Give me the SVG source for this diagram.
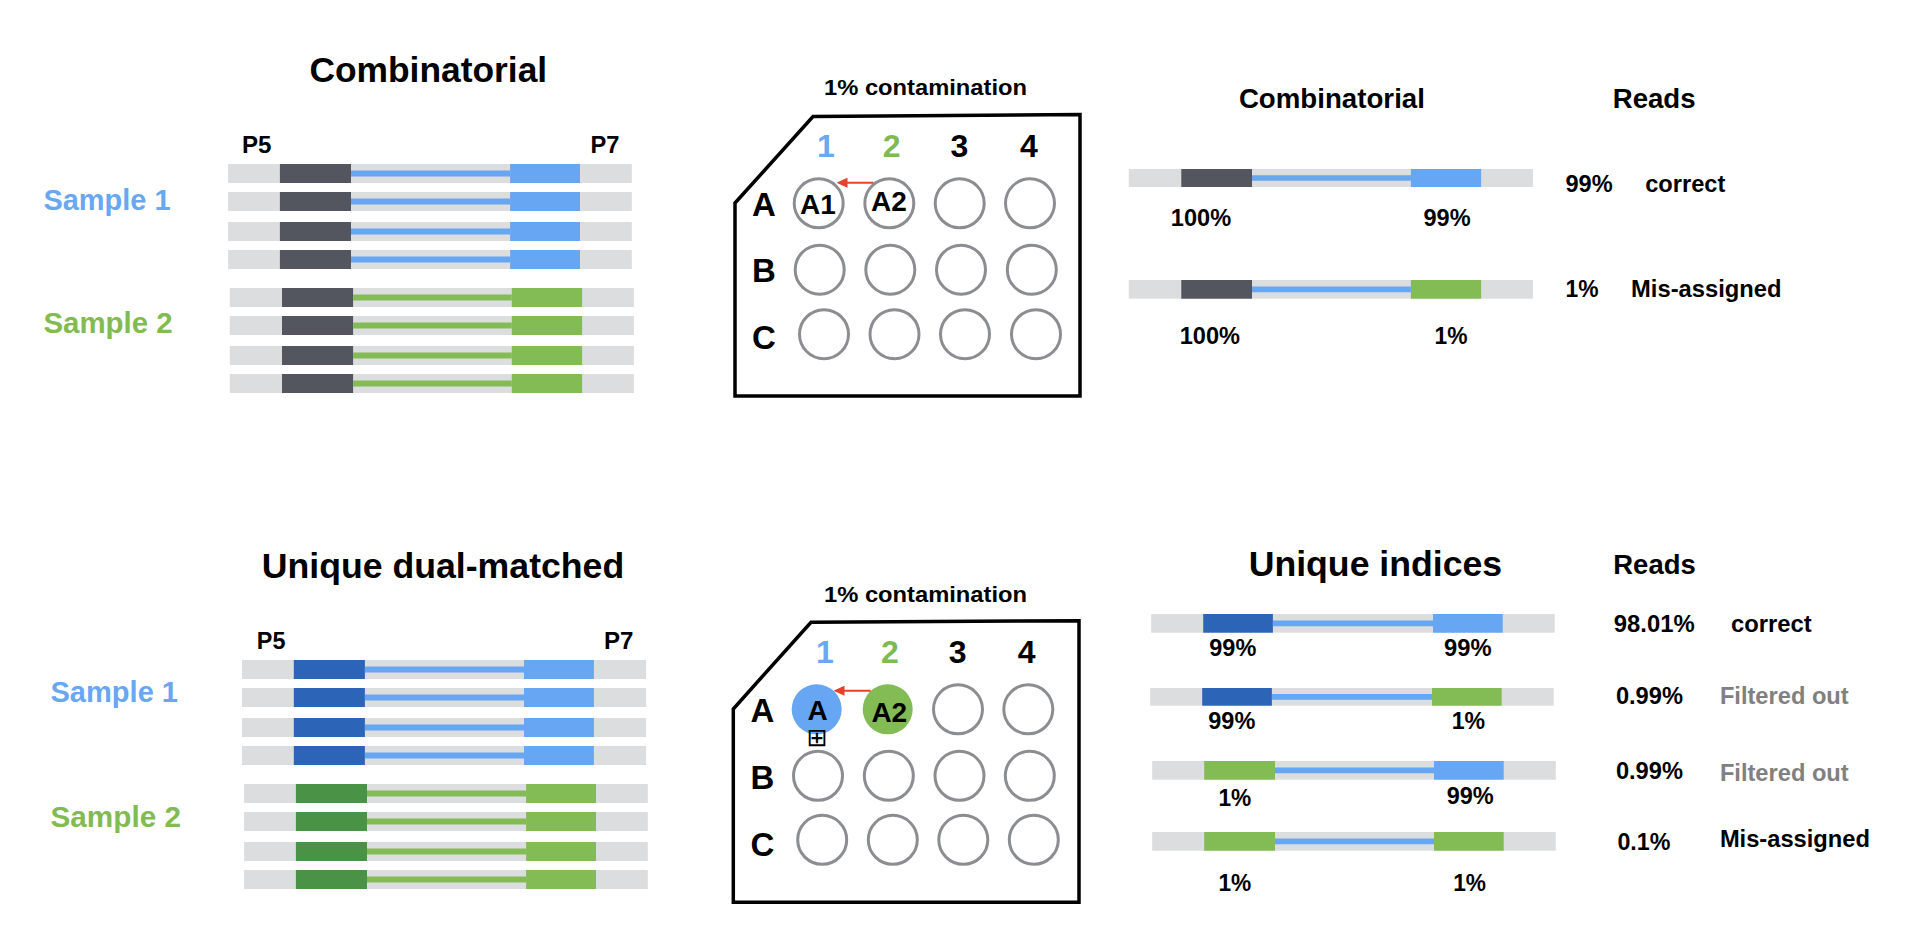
<svg xmlns="http://www.w3.org/2000/svg" width="1922" height="926" viewBox="0 0 1922 926">
<style>
  text { font-family: "Liberation Sans", Arial, sans-serif; font-weight: bold; fill: #000; }
  .t { font-size: 23.5px; }
  .g { fill: #dcdddf; }
  .dk { fill: #53565e; }
  .bl { fill: #66a6f2; }
  .gr { fill: #83bb55; }
  .db { fill: #2c65b8; }
  .dg { fill: #4a9246; }
  .lb { stroke: #66a6f2; stroke-width: 6; }
  .lg { stroke: #83bb55; stroke-width: 6; }
  .well { fill: none; stroke: #8c8d91; stroke-width: 3; }
  .plate { fill: #fff; stroke: #000; stroke-width: 3.5; stroke-linejoin: miter; }
  .num { font-size: 32px; text-anchor: middle; }
  .row { font-size: 33px; text-anchor: middle; }
  .wl { font-size: 28px; text-anchor: middle; }
  .arr { stroke: #e5412d; stroke-width: 2; fill: none; }
  .s1 { fill: #69a7f2; font-size: 29px; }
  .s2 { fill: #82bb52; font-size: 29px; }
  .fo { fill: #808080; }
</style>
<defs>
  <marker id="ah" viewBox="0 0 11 10" refX="7" refY="5" markerWidth="11" markerHeight="10" markerUnits="userSpaceOnUse" orient="auto">
    <path d="M0,0 L11,5 L0,10 z" fill="#e5412d"/>
  </marker>
</defs>
<rect width="1922" height="926" fill="#fff"/>

<!-- ===== Top-left: Combinatorial libraries ===== -->
<g id="combinatorial-libraries">
  <text x="309.4" y="82" font-size="35" textLength="237.8" lengthAdjust="spacingAndGlyphs">Combinatorial</text>
  <text x="242" y="153" font-size="24" textLength="29.5" lengthAdjust="spacingAndGlyphs">P5</text>
  <text x="590.5" y="153" font-size="24" textLength="29" lengthAdjust="spacingAndGlyphs">P7</text>
  <text class="s1" x="43.4" y="210" textLength="127.1" lengthAdjust="spacingAndGlyphs">Sample 1</text>
  <text class="s2" x="43.4" y="333" textLength="129.2" lengthAdjust="spacingAndGlyphs">Sample 2</text>
  <g id="tl-s1">
    <rect class="g" x="228.1" y="164" width="403.7" height="19"/>
    <rect class="dk" x="279.9" y="164" width="71.1" height="19"/>
    <rect class="bl" x="510.1" y="164" width="69.9" height="19"/>
    <line class="lb" x1="351" y1="173.5" x2="510.1" y2="173.5"/>
    <rect class="g" x="228.1" y="192" width="403.7" height="19"/>
    <rect class="dk" x="279.9" y="192" width="71.1" height="19"/>
    <rect class="bl" x="510.1" y="192" width="69.9" height="19"/>
    <line class="lb" x1="351" y1="201.5" x2="510.1" y2="201.5"/>
    <rect class="g" x="228.1" y="222" width="403.7" height="19"/>
    <rect class="dk" x="279.9" y="222" width="71.1" height="19"/>
    <rect class="bl" x="510.1" y="222" width="69.9" height="19"/>
    <line class="lb" x1="351" y1="231.5" x2="510.1" y2="231.5"/>
    <rect class="g" x="228.1" y="250" width="403.7" height="19"/>
    <rect class="dk" x="279.9" y="250" width="71.1" height="19"/>
    <rect class="bl" x="510.1" y="250" width="69.9" height="19"/>
    <line class="lb" x1="351" y1="259.5" x2="510.1" y2="259.5"/>
  </g>
  <g id="tl-s2">
    <rect class="g" x="229.8" y="288" width="404.1" height="19"/>
    <rect class="dk" x="282" y="288" width="71.1" height="19"/>
    <rect class="gr" x="511.8" y="288" width="70.3" height="19"/>
    <line class="lg" x1="353.1" y1="297.5" x2="511.8" y2="297.5"/>
    <rect class="g" x="229.8" y="316" width="404.1" height="19"/>
    <rect class="dk" x="282" y="316" width="71.1" height="19"/>
    <rect class="gr" x="511.8" y="316" width="70.3" height="19"/>
    <line class="lg" x1="353.1" y1="325.5" x2="511.8" y2="325.5"/>
    <rect class="g" x="229.8" y="346" width="404.1" height="19"/>
    <rect class="dk" x="282" y="346" width="71.1" height="19"/>
    <rect class="gr" x="511.8" y="346" width="70.3" height="19"/>
    <line class="lg" x1="353.1" y1="355.5" x2="511.8" y2="355.5"/>
    <rect class="g" x="229.8" y="374" width="404.1" height="19"/>
    <rect class="dk" x="282" y="374" width="71.1" height="19"/>
    <rect class="gr" x="511.8" y="374" width="70.3" height="19"/>
    <line class="lg" x1="353.1" y1="383.5" x2="511.8" y2="383.5"/>
  </g>
</g>

<!-- ===== Top plate ===== -->
<g id="plate-top">
  <text x="824" y="95" font-size="22" textLength="203" lengthAdjust="spacingAndGlyphs">1% contamination</text>
  <polygon class="plate" points="813,116.5 1080,114.5 1080,396 735,396 735,203"/>
  <text class="num" x="826" y="157.3" style="fill:#6aa8f0">1</text>
  <text class="num" x="891.7" y="157.3" style="fill:#7dba4f">2</text>
  <text class="num" x="959.3" y="157.3">3</text>
  <text class="num" x="1029" y="157.3">4</text>
  <text class="row" x="764" y="215.7">A</text>
  <text class="row" x="764" y="282.3">B</text>
  <text class="row" x="764" y="349">C</text>
  <circle class="well" cx="818.7" cy="203.3" r="24.5"/>
  <circle class="well" cx="889.3" cy="203.3" r="24.5"/>
  <circle class="well" cx="959.7" cy="203.3" r="24.5"/>
  <circle class="well" cx="1030" cy="203.3" r="24.5"/>
  <circle class="well" cx="819.7" cy="269.7" r="24.5"/>
  <circle class="well" cx="890.3" cy="269.7" r="24.5"/>
  <circle class="well" cx="961" cy="269.7" r="24.5"/>
  <circle class="well" cx="1031.8" cy="269.7" r="24.5"/>
  <circle class="well" cx="824" cy="334.2" r="24.5"/>
  <circle class="well" cx="894.5" cy="334.2" r="24.5"/>
  <circle class="well" cx="965" cy="334.2" r="24.5"/>
  <circle class="well" cx="1036" cy="334.2" r="24.5"/>
  <text class="wl" x="818" y="214.3">A1</text>
  <text class="wl" x="889" y="210.7">A2</text>
</g>

<!-- ===== Top right: Combinatorial reads ===== -->
<g id="combinatorial-reads">
  <text x="1238.9" y="108.3" font-size="27.5" textLength="186" lengthAdjust="spacingAndGlyphs">Combinatorial</text>
  <text x="1612.7" y="108.3" font-size="27.5" textLength="82.9" lengthAdjust="spacingAndGlyphs">Reads</text>
  <rect class="g" x="1128.8" y="169" width="404.2" height="18"/>
  <rect class="dk" x="1181.3" y="169" width="70.7" height="18"/>
  <rect class="bl" x="1410.9" y="169" width="70.2" height="18"/>
  <line class="lb" x1="1252" y1="178" x2="1410.9" y2="178" style="stroke-width:5.7"/>
  <text class="t" x="1565.5" y="191.7" textLength="47.2" lengthAdjust="spacingAndGlyphs">99%</text>
  <text class="t" x="1645.2" y="191.7" textLength="80.2" lengthAdjust="spacingAndGlyphs">correct</text>
  <text class="t" x="1170.8" y="226" textLength="60.3" lengthAdjust="spacingAndGlyphs">100%</text>
  <text class="t" x="1423.5" y="226" textLength="47.1" lengthAdjust="spacingAndGlyphs">99%</text>
  <rect class="g" x="1128.8" y="280" width="404.2" height="18.7"/>
  <rect class="dk" x="1181.3" y="280" width="70.7" height="18.7"/>
  <rect class="gr" x="1410.9" y="280" width="70.2" height="18.7"/>
  <line class="lb" x1="1252" y1="289.3" x2="1410.9" y2="289.3" style="stroke-width:5.7"/>
  <text class="t" x="1565.5" y="297.3" textLength="33" lengthAdjust="spacingAndGlyphs">1%</text>
  <text class="t" x="1631.1" y="297.3" textLength="150.4" lengthAdjust="spacingAndGlyphs">Mis-assigned</text>
  <text class="t" x="1179.7" y="344.3" textLength="60.3" lengthAdjust="spacingAndGlyphs">100%</text>
  <text class="t" x="1434.5" y="344.3" textLength="33" lengthAdjust="spacingAndGlyphs">1%</text>
</g>

<!-- ===== Bottom-left: Unique dual-matched libraries ===== -->
<g id="udi-libraries">
  <text x="261.8" y="577.7" font-size="35" textLength="362.4" lengthAdjust="spacingAndGlyphs">Unique dual-matched</text>
  <text x="256.8" y="649.3" font-size="24" textLength="28.6" lengthAdjust="spacingAndGlyphs">P5</text>
  <text x="604" y="649.3" font-size="24" textLength="29.5" lengthAdjust="spacingAndGlyphs">P7</text>
  <text class="s1" x="50.5" y="702.3" textLength="127.5" lengthAdjust="spacingAndGlyphs">Sample 1</text>
  <text class="s2" x="50.5" y="826.7" textLength="130.5" lengthAdjust="spacingAndGlyphs">Sample 2</text>
  <g id="bl-s1">
    <rect class="g" x="242" y="660" width="404.1" height="19"/>
    <rect class="db" x="293.8" y="660" width="71.1" height="19"/>
    <rect class="bl" x="524" y="660" width="69.9" height="19"/>
    <line class="lb" x1="364.9" y1="669.5" x2="524" y2="669.5"/>
    <rect class="g" x="242" y="688" width="404.1" height="19"/>
    <rect class="db" x="293.8" y="688" width="71.1" height="19"/>
    <rect class="bl" x="524" y="688" width="69.9" height="19"/>
    <line class="lb" x1="364.9" y1="697.5" x2="524" y2="697.5"/>
    <rect class="g" x="242" y="718" width="404.1" height="19"/>
    <rect class="db" x="293.8" y="718" width="71.1" height="19"/>
    <rect class="bl" x="524" y="718" width="69.9" height="19"/>
    <line class="lb" x1="364.9" y1="727.5" x2="524" y2="727.5"/>
    <rect class="g" x="242" y="746" width="404.1" height="19"/>
    <rect class="db" x="293.8" y="746" width="71.1" height="19"/>
    <rect class="bl" x="524" y="746" width="69.9" height="19"/>
    <line class="lb" x1="364.9" y1="755.5" x2="524" y2="755.5"/>
  </g>
  <g id="bl-s2">
    <rect class="g" x="244.1" y="784" width="403.7" height="19"/>
    <rect class="dg" x="295.9" y="784" width="71.1" height="19"/>
    <rect class="gr" x="526.1" y="784" width="69.9" height="19"/>
    <line class="lg" x1="367" y1="793.5" x2="526.1" y2="793.5"/>
    <rect class="g" x="244.1" y="812" width="403.7" height="19"/>
    <rect class="dg" x="295.9" y="812" width="71.1" height="19"/>
    <rect class="gr" x="526.1" y="812" width="69.9" height="19"/>
    <line class="lg" x1="367" y1="821.5" x2="526.1" y2="821.5"/>
    <rect class="g" x="244.1" y="842" width="403.7" height="19"/>
    <rect class="dg" x="295.9" y="842" width="71.1" height="19"/>
    <rect class="gr" x="526.1" y="842" width="69.9" height="19"/>
    <line class="lg" x1="367" y1="851.5" x2="526.1" y2="851.5"/>
    <rect class="g" x="244.1" y="870" width="403.7" height="19"/>
    <rect class="dg" x="295.9" y="870" width="71.1" height="19"/>
    <rect class="gr" x="526.1" y="870" width="69.9" height="19"/>
    <line class="lg" x1="367" y1="879.5" x2="526.1" y2="879.5"/>
  </g>
</g>

<!-- ===== Bottom plate ===== -->
<g id="plate-bottom">
  <text x="824" y="601.7" font-size="22" textLength="203" lengthAdjust="spacingAndGlyphs">1% contamination</text>
  <polygon class="plate" points="811,622.3 1079,620.7 1079,902.3 733.3,902.3 733.3,709"/>
  <text class="num" x="825" y="662.7" style="fill:#6aa8f0">1</text>
  <text class="num" x="890" y="662.7" style="fill:#7dba4f">2</text>
  <text class="num" x="957.7" y="662.7">3</text>
  <text class="num" x="1026.7" y="662.7">4</text>
  <text class="row" x="762.3" y="722.3">A</text>
  <text class="row" x="762.3" y="789">B</text>
  <text class="row" x="762.3" y="855.7">C</text>
  <circle cx="816.7" cy="709.3" r="25" fill="#66a6f2"/>
  <circle cx="887.7" cy="709.3" r="25" fill="#83bb55"/>
  <circle class="well" cx="958" cy="709.3" r="24.5"/>
  <circle class="well" cx="1028.3" cy="709.3" r="24.5"/>
  <circle class="well" cx="818" cy="775.8" r="24.5"/>
  <circle class="well" cx="888.8" cy="775.8" r="24.5"/>
  <circle class="well" cx="959.5" cy="775.8" r="24.5"/>
  <circle class="well" cx="1029.8" cy="775.8" r="24.5"/>
  <circle class="well" cx="822.2" cy="839.8" r="24.5"/>
  <circle class="well" cx="892.8" cy="839.8" r="24.5"/>
  <circle class="well" cx="963.3" cy="839.8" r="24.5"/>
  <circle class="well" cx="1033.8" cy="839.8" r="24.5"/>
  <text class="wl" x="817.7" y="720">A</text>
  <text x="817" y="746" font-size="25" text-anchor="middle" style="font-family:'DejaVu Sans',sans-serif;font-weight:normal">⊞</text>
  <text class="wl" x="889.3" y="721.7">A2</text>
</g>

<!-- ===== Bottom right: Unique indices reads ===== -->
<g id="udi-reads">
  <text x="1248.7" y="576" font-size="35" textLength="253.5" lengthAdjust="spacingAndGlyphs">Unique indices</text>
  <text x="1613.3" y="574.3" font-size="27.5" textLength="82.4" lengthAdjust="spacingAndGlyphs">Reads</text>

  <rect class="g" x="1151.2" y="614" width="403.5" height="18.7"/>
  <rect class="db" x="1203.2" y="614" width="69.7" height="18.7"/>
  <rect class="bl" x="1433" y="614" width="69.7" height="18.7"/>
  <line class="lb" x1="1272.9" y1="623.3" x2="1433" y2="623.3" style="stroke-width:5.7"/>
  <text class="t" x="1209.3" y="655.7" textLength="47" lengthAdjust="spacingAndGlyphs">99%</text>
  <text class="t" x="1444.1" y="655.7" textLength="47.5" lengthAdjust="spacingAndGlyphs">99%</text>
  <text class="t" x="1613.8" y="631.7" textLength="80.8" lengthAdjust="spacingAndGlyphs">98.01%</text>
  <text class="t" x="1731" y="631.7" textLength="80.8" lengthAdjust="spacingAndGlyphs">correct</text>

  <rect class="g" x="1150.2" y="688" width="403.5" height="17.7"/>
  <rect class="db" x="1202.2" y="688" width="69.7" height="17.7"/>
  <rect class="gr" x="1432" y="688" width="69.7" height="17.7"/>
  <line class="lb" x1="1271.9" y1="696.8" x2="1432" y2="696.8" style="stroke-width:5.7"/>
  <text class="t" x="1208.3" y="729.3" textLength="47" lengthAdjust="spacingAndGlyphs">99%</text>
  <text class="t" x="1451.7" y="729.3" textLength="33.4" lengthAdjust="spacingAndGlyphs">1%</text>
  <text class="t" x="1615.9" y="704.3" textLength="67.1" lengthAdjust="spacingAndGlyphs">0.99%</text>
  <text class="t fo" x="1719.9" y="704.3" textLength="128.8" lengthAdjust="spacingAndGlyphs">Filtered out</text>

  <rect class="g" x="1152.2" y="761" width="403.6" height="18.7"/>
  <rect class="gr" x="1204.2" y="761" width="70.8" height="18.7"/>
  <rect class="bl" x="1434" y="761" width="69.7" height="18.7"/>
  <line class="lb" x1="1275" y1="770.3" x2="1434" y2="770.3" style="stroke-width:5.7"/>
  <text class="t" x="1218.4" y="805.7" textLength="32.8" lengthAdjust="spacingAndGlyphs">1%</text>
  <text class="t" x="1446.7" y="804" textLength="47" lengthAdjust="spacingAndGlyphs">99%</text>
  <text class="t" x="1615.9" y="778.7" textLength="67.1" lengthAdjust="spacingAndGlyphs">0.99%</text>
  <text class="t fo" x="1719.9" y="781" textLength="128.8" lengthAdjust="spacingAndGlyphs">Filtered out</text>

  <rect class="g" x="1152.2" y="832" width="403.6" height="18.7"/>
  <rect class="gr" x="1204.2" y="832" width="70.8" height="18.7"/>
  <rect class="gr" x="1434" y="832" width="69.7" height="18.7"/>
  <line class="lb" x1="1275" y1="841.3" x2="1434" y2="841.3" style="stroke-width:5.7"/>
  <text class="t" x="1218.4" y="890.7" textLength="32.8" lengthAdjust="spacingAndGlyphs">1%</text>
  <text class="t" x="1453.2" y="890.7" textLength="32.8" lengthAdjust="spacingAndGlyphs">1%</text>
  <text class="t" x="1617.4" y="850" textLength="53" lengthAdjust="spacingAndGlyphs">0.1%</text>
  <text class="t" x="1719.9" y="846.7" textLength="150" lengthAdjust="spacingAndGlyphs">Mis-assigned</text>
</g>

<!-- ===== Connectors: contamination arrows ===== -->
<g id="connectors">
  <line class="arr" x1="873.3" y1="182.7" x2="840.5" y2="182.7" marker-end="url(#ah)"/>
  <line class="arr" x1="870.7" y1="690.7" x2="837.5" y2="690.7" marker-end="url(#ah)"/>
</g>
</svg>
